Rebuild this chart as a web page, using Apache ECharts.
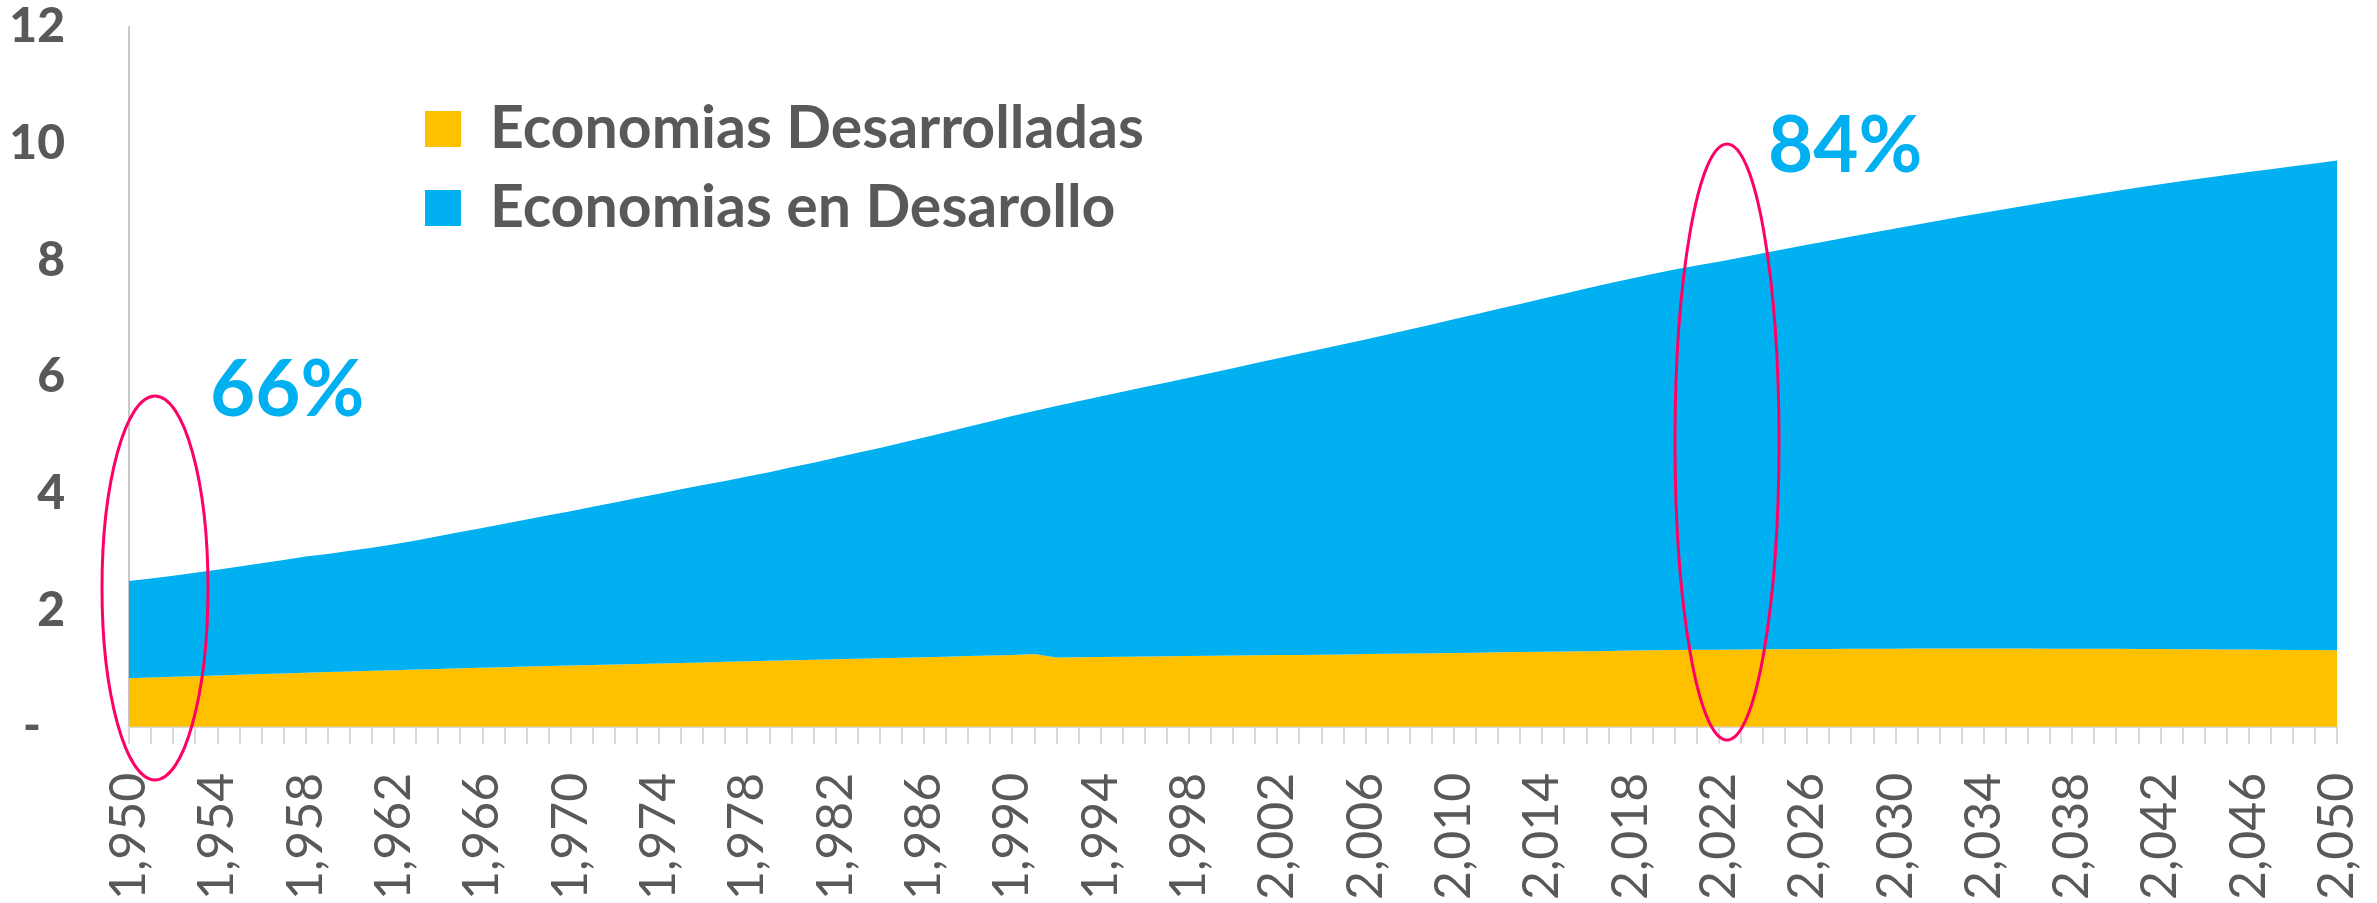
<!DOCTYPE html>
<html>
<head>
<meta charset="utf-8">
<title>Población mundial 1950-2050</title>
<script src="https://cdn.jsdelivr.net/npm/echarts@6/dist/echarts.min.js"></script>
<style>
  html, body { margin: 0; padding: 0; background: #ffffff; }
  #chart { width: 2377px; height: 903px; }
</style>
</head>
<body>
<div id="chart"></div>
<script>
// Years on the category axis, 1950 to 2050
const years = Array.from({ length: 101 }, (_, i) => String(1950 + i));

// Population of developed economies (billions)
const desarrolladas = [
  0.830, 0.842, 0.854, 0.866, 0.878, 0.889, 0.901, 0.913, 0.925, 0.936,
  0.947, 0.958, 0.969, 0.980, 0.990, 1.000, 1.010, 1.020, 1.030, 1.039,
  1.048, 1.057, 1.066, 1.075, 1.084, 1.093, 1.102, 1.111, 1.120, 1.129,
  1.138, 1.147, 1.156, 1.165, 1.174, 1.183, 1.192, 1.201, 1.210, 1.220,
  1.230, 1.245, 1.185, 1.190, 1.195, 1.199, 1.203, 1.207, 1.211, 1.215,
  1.219, 1.223, 1.227, 1.231, 1.235, 1.239, 1.244, 1.249, 1.254, 1.259,
  1.264, 1.269, 1.274, 1.279, 1.284, 1.289, 1.294, 1.299, 1.304, 1.309,
  1.313, 1.317, 1.320, 1.323, 1.326, 1.329, 1.331, 1.333, 1.335, 1.337,
  1.338, 1.339, 1.340, 1.340, 1.340, 1.340, 1.339, 1.338, 1.337, 1.336,
  1.335, 1.333, 1.331, 1.329, 1.327, 1.325, 1.322, 1.319, 1.316, 1.313,
  1.310
];

// Population of developing economies (billions)
const enDesarrollo = [
  1.669, 1.701, 1.736, 1.774, 1.813, 1.857, 1.900, 1.947, 1.993, 2.027,
  2.072, 2.111, 2.158, 2.214, 2.275, 2.337, 2.399, 2.460, 2.521, 2.586,
  2.647, 2.713, 2.779, 2.846, 2.912, 2.977, 3.041, 3.104, 3.169, 3.236,
  3.309, 3.381, 3.456, 3.531, 3.607, 3.686, 3.766, 3.848, 3.932, 4.015,
  4.097, 4.169, 4.313, 4.391, 4.468, 4.545, 4.621, 4.697, 4.773, 4.851,
  4.930, 5.008, 5.086, 5.163, 5.241, 5.319, 5.397, 5.477, 5.558, 5.640,
  5.722, 5.804, 5.888, 5.972, 6.055, 6.137, 6.219, 6.300, 6.379, 6.455,
  6.528, 6.592, 6.655, 6.722, 6.793, 6.863, 6.933, 7.003, 7.071, 7.139,
  7.208, 7.275, 7.341, 7.408, 7.474, 7.539, 7.604, 7.668, 7.731, 7.793,
  7.853, 7.913, 7.972, 8.029, 8.084, 8.137, 8.190, 8.241, 8.294, 8.347,
  8.399
];

const seriesNames = ['Economias Desarrolladas', 'Economias en Desarollo'];
const shareLabels = ['66%', '84%'];

const textGray = '#595959';
const yellow = '#ffc000';
const blue = '#00b0f0';
const ring = '#ff0066';

const chart = echarts.init(document.getElementById('chart'), null, { renderer: 'canvas' });

chart.setOption({
  backgroundColor: '#ffffff',
  animation: false,
  grid: { left: 129, right: 40, top: 27, bottom: 167, containLabel: false },
  legend: {
    orient: 'vertical',
    left: 420,
    top: 94,
    itemWidth: 36,
    itemHeight: 36,
    itemGap: 19,
    icon: 'rect',
    data: seriesNames,
    textStyle: {
      fontFamily: 'Lato',
      fontWeight: 'bold',
      fontSize: 59,
      lineHeight: 60,
      color: textGray,
      padding: [0, 0, 0, 24]
    }
  },
  xAxis: {
    type: 'category',
    data: years,
    boundaryGap: false,
    axisLine: { show: true, lineStyle: { color: '#d9d9d9', width: 3 } },
    axisTick: { show: true, interval: 0, length: 17, lineStyle: { color: '#d9d9d9', width: 2 } },
    axisLabel: {
      interval: 3,
      rotate: 90,
      margin: 46,
      color: textGray,
      fontFamily: 'Lato',
      fontSize: 50,
      formatter: v => v.slice(0, 1) + ',' + v.slice(1)
    },
    splitLine: { show: false }
  },
  yAxis: {
    type: 'value',
    min: 0,
    max: 12,
    interval: 2,
    axisLine: { show: true, lineStyle: { color: '#c8c8c8', width: 2 } },
    axisTick: { show: false },
    splitLine: { show: false },
    axisLabel: {
      margin: 64,
      color: textGray,
      fontFamily: 'Lato',
      fontWeight: 900,
      fontSize: 48,
      formatter: v => (v === 0 ? '{z|-}' : String(v)),
      rich: {
        z: {
          fontFamily: 'Lato',
          fontWeight: 900,
          fontSize: 48,
          color: textGray,
          padding: [0, 24, 0, 0]
        }
      }
    }
  },
  series: [
    {
      name: seriesNames[0],
      type: 'line',
      stack: 'poblacion',
      data: desarrolladas,
      showSymbol: false,
      lineStyle: { width: 0 },
      itemStyle: { color: yellow },
      areaStyle: { color: yellow, opacity: 1 },
      z: 2
    },
    {
      name: seriesNames[1],
      type: 'line',
      stack: 'poblacion',
      data: enDesarrollo,
      showSymbol: false,
      lineStyle: { width: 0 },
      itemStyle: { color: blue },
      areaStyle: { color: blue, opacity: 1 },
      z: 2
    }
  ],
  graphic: [
    {
      type: 'ellipse',
      shape: { cx: 155, cy: 588, rx: 53, ry: 192 },
      style: { fill: 'none', stroke: ring, lineWidth: 3 },
      z: 100
    },
    {
      type: 'ellipse',
      shape: { cx: 1727, cy: 442, rx: 52, ry: 298 },
      style: { fill: 'none', stroke: ring, lineWidth: 3 },
      z: 100
    },
    {
      type: 'text',
      left: 210,
      top: 352,
      style: {
        text: shareLabels[0],
        fill: blue,
        font: 'bold 78px Lato'
      },
      z: 100
    },
    {
      type: 'text',
      left: 1768,
      top: 108,
      style: {
        text: shareLabels[1],
        fill: blue,
        font: 'bold 78px Lato'
      },
      z: 100
    }
  ]
});
</script>
</body>
</html>
